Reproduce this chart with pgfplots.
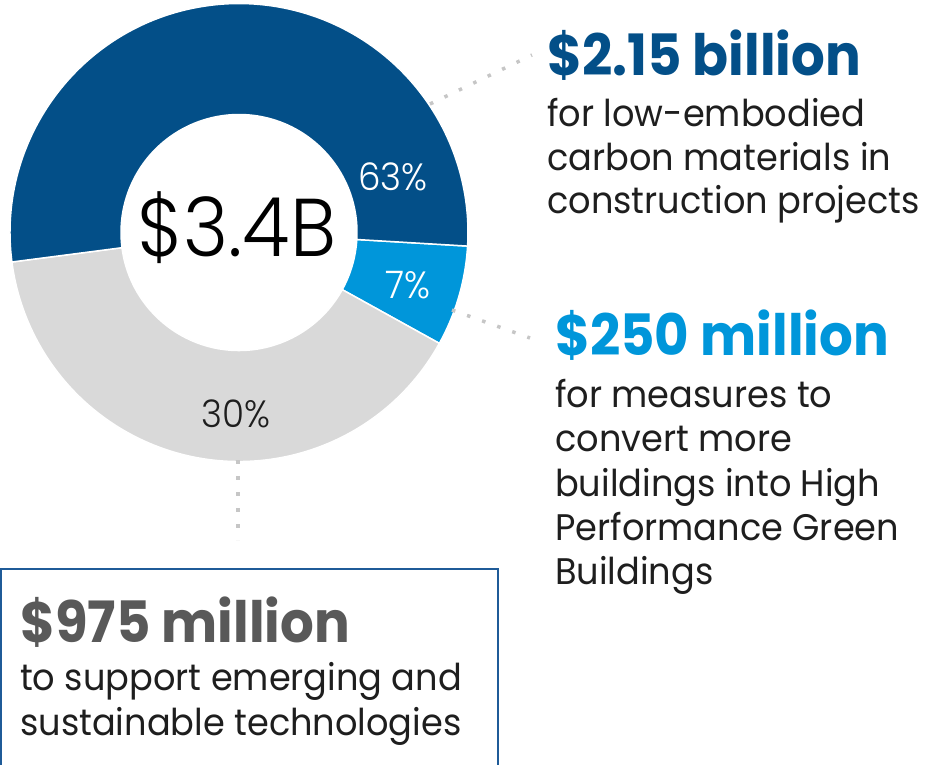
\documentclass[border=0pt]{standalone}
\usepackage{pgfplots}
\pgfplotsset{compat=1.18}
\usepackage{pgfplotstable}
\usepackage{fontspec}
\setmainfont{Poppins}
\newfontfamily\headfont[FakeStretch=0.93]{Poppins}
\newfontfamily\bodyfont[FakeStretch=0.95]{Poppins}
\newfontfamily\thinfont[FakeStretch=0.94]{Poppins Light}

\definecolor{darkblue}{HTML}{034F88}
\definecolor{lightblue}{HTML}{0096DA}
\definecolor{ringgray}{HTML}{D9D9D9}
\definecolor{dotgray}{HTML}{C6C6C6}
\definecolor{bodytext}{HTML}{1E1E1E}
\definecolor{headgray}{HTML}{595959}
\definecolor{boxblue}{HTML}{1F5B98}

% share of the ring as drawn (clockwise from the first boundary)
\pgfplotstableread{
part  share label
light  7.1  7
gray  39.9  30
dark  53.0  63
}\ringdata

\pgfplotstablegetelem{0}{share}\of\ringdata \let\sLight\pgfplotsretval
\pgfplotstablegetelem{1}{share}\of\ringdata \let\sGray\pgfplotsretval
\pgfplotstablegetelem{2}{share}\of\ringdata \let\sDark\pgfplotsretval

\pgfmathsetmacro\aA{-3.4}
\pgfmathsetmacro\aB{\aA-3.6*\sLight}
\pgfmathsetmacro\aC{\aB-3.6*\sGray}
\pgfmathsetmacro\aD{\aC-3.6*\sDark}

\newcommand\ringpart[3]{%
  \fill[#3, draw=white, line width=1.5pt]
    ([shift={(#1:229pt)}]axis cs:0,0) arc[start angle=#1, end angle=#2, radius=229pt]
    -- ([shift={(#2:118pt)}]axis cs:0,0) arc[start angle=#2, end angle=#1, radius=118pt]
    -- cycle;}

\newcommand\hfont{\headfont\fontsize{57}{57}\selectfont\bfseries}
\newcommand\bfont{\bodyfont\fontsize{37}{44}\selectfont}

\begin{document}
\begin{tikzpicture}[x=1pt, y=-1pt]
\path[use as bounding box] (0,0) rectangle (926,764);
\clip (0,0) rectangle (926,764);

\begin{axis}[
    hide axis, scale only axis,
    width=458pt, height=458pt,
    xmin=-1, xmax=1, ymin=-1, ymax=1,
    at={(239pt,-232.5pt)}, anchor=center,
    clip=false]
  \ringpart{\aA}{\aB}{lightblue}
  \ringpart{\aB}{\aC}{ringgray}
  \ringpart{\aC}{\aD}{darkblue}
\end{axis}

% leader lines
\draw[dotgray, line width=3.5pt, dash pattern=on 3.5pt off 12.5pt] (430,104) -- (532,55);
\draw[dotgray, line width=3.5pt, dash pattern=on 3.5pt off 12.5pt] (452,310) -- (530,338);
\draw[dotgray, line width=3.5pt, dash pattern=on 3.5pt off 12.5pt] (238,460) -- (238,540);

% box
\draw[boxblue, line width=2pt] (1,569) rectangle (498,800);

% centre and slice labels
\node[anchor=base, inner sep=0, font=\thinfont\fontsize{82}{82}\selectfont] at (237,256) {\$3.4B};
\node[anchor=base, inner sep=0, text=white, font=\thinfont\fontsize{38}{38}\selectfont] at (393,190.5) {63\%};
\node[anchor=base, inner sep=0, text=white, font=\thinfont\fontsize{38}{38}\selectfont] at (408,298) {7\%};
\node[anchor=base, inner sep=0, text=bodytext, font=\thinfont\fontsize{38}{38}\selectfont] at (236,427) {30\%};

% top annotation
\node[anchor=base west, inner sep=0, text=darkblue, font=\hfont] at (547,75) {\$2.15 billion};
\node[anchor=base west, inner sep=0, text=bodytext, font=\bfont] at (547,126) {for low-embodied};
\node[anchor=base west, inner sep=0, text=bodytext, font=\bfont] at (547,170) {carbon materials in};
\node[anchor=base west, inner sep=0, text=bodytext, font=\bfont] at (547,213) {construction projects};

% middle annotation
\node[anchor=base west, inner sep=0, text=lightblue, font=\hfont] at (555,355) {\$250 million};
\node[anchor=base west, inner sep=0, text=bodytext, font=\bfont] at (555,407) {for measures to};
\node[anchor=base west, inner sep=0, text=bodytext, font=\bfont] at (555,451) {convert more};
\node[anchor=base west, inner sep=0, text=bodytext, font=\bfont] at (555,496) {buildings into High};
\node[anchor=base west, inner sep=0, text=bodytext, font=\bfont] at (555,540) {Performance Green};
\node[anchor=base west, inner sep=0, text=bodytext, font=\bfont] at (555,584) {Buildings};

% bottom annotation
\node[anchor=base west, inner sep=0, text=headgray, font=\hfont] at (20,642) {\$975 million};
\node[anchor=base west, inner sep=0, text=bodytext, font=\bfont] at (20,690) {to support emerging and};
\node[anchor=base west, inner sep=0, text=bodytext, font=\bfont] at (20,735) {sustainable technologies};
\end{tikzpicture}
\end{document}
